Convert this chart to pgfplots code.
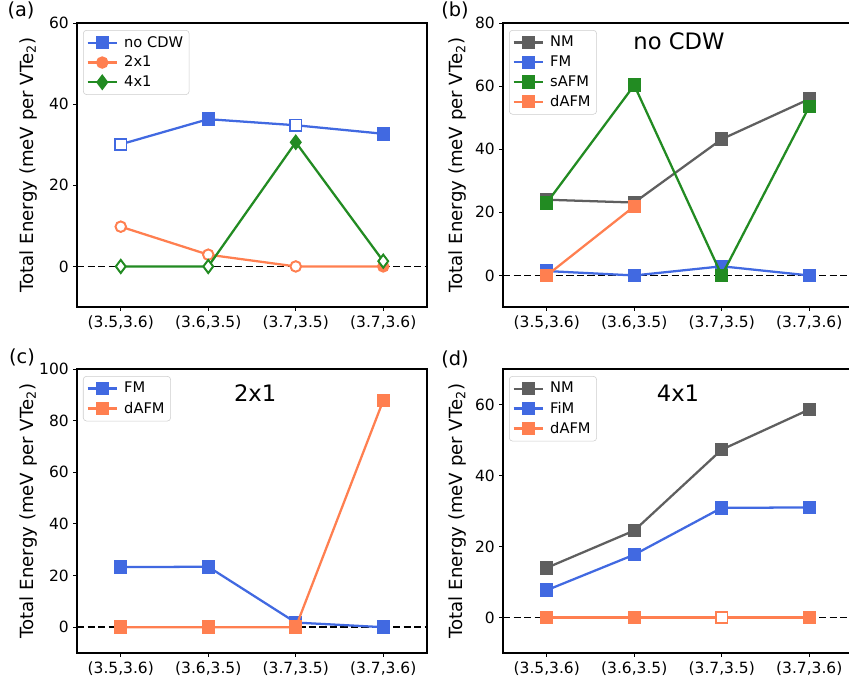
\documentclass[border=0pt]{standalone}
\usepackage{fontspec}
\setmainfont{DejaVu Sans}
\usepackage{pgfplots}
\pgfplotsset{compat=1.18}
\definecolor{cBlue}{RGB}{65,105,225}
\definecolor{cCoral}{RGB}{255,127,80}
\definecolor{cGreen}{RGB}{34,139,34}
\definecolor{cGray}{RGB}{95,95,95}

\newcommand{\legfont}{\fontsize{11}{13}\selectfont}
\tikzset{
  lab/.style={font=\fontsize{14.5}{17}\selectfont},
  ttl/.style={font=\fontsize{17}{20}\selectfont},
}
\pgfplotsset{
  panel/.style={
    scale only axis, width=262.5pt, height=213pt,
    clip mode=individual,
    xmin=-0.5, xmax=3.5, ymin=-10,
    xtick={0,1,2,3},
    xticklabels={{(3.5,3.6)},{(3.6,3.5)},{(3.7,3.5)},{(3.7,3.6)}},
    tick align=outside, major tick length=2.7pt,
    tick style={black, line width=0.7pt},
    xtick pos=bottom, ytick pos=left,
    axis line style={line width=0.9pt},
    ticklabel style={font=\fontsize{11.6}{14}\selectfont},
    /pgf/number format/assume math mode=true,
    ylabel={Total Energy (meV per VTe\textsubscript{2})},
    ylabel style={font=\fontsize{13.6}{16}\selectfont, anchor=center},
    legend cell align=left,
    legend style={at={(0,1)}, anchor=north west, xshift=4.5pt, yshift=-5.25pt,
      draw=black!20, fill=white, rounded corners=2.5pt,
      font=\legfont, inner sep=2.5pt, row sep=1.2pt},
    legend image code/.code={\draw[mark repeat=2,mark phase=2]
      plot coordinates {(0pt,0pt) (10.9pt,0pt) (21.8pt,0pt)};
      \path (0pt,0pt) (24.5pt,0pt);},
    every axis plot/.append style={line width=1.7pt},
  },
  zero/.style={black, line width=1.1pt, dash pattern=on 5.5pt off 2.4pt, forget plot},
  sq/.style={mark=square*, mark size=4.2pt, mark options={solid}},
  ci/.style={mark=*, mark size=3.8pt, mark options={solid}},
  di/.style={mark=diamond*, mark size=4.7pt, mark options={solid, xscale=1.33}},
}

\begin{document}
\begin{tikzpicture}
% (a)
\begin{axis}[panel, at={(57.75pt,-230.25pt)}, ymax=60, ytick={0,20,40,60},
  ylabel style={at={(axis description cs:-0.14,0.5)}}]
\addplot[zero] coordinates {(-0.5,0) (3.5,0)};
\addplot[cBlue, sq, mark options={fill=cBlue}] coordinates {(0,30.1) (1,36.3) (2,34.8) (3,32.7)};
\addlegendentry{no CDW}
\addplot[cBlue, sq, only marks, mark options={fill=white, draw=cBlue, line width=1.2pt}, forget plot] coordinates {(0,30.1) (2,34.8)};
\addplot[cCoral, ci, mark options={fill=cCoral}] coordinates {(0,9.8) (1,2.9) (2,0) (3,0)};
\addlegendentry{2x1}
\addplot[cCoral, ci, only marks, mark options={fill=white, draw=cCoral, line width=1.2pt}, forget plot] coordinates {(0,9.8) (1,2.9) (2,0)};
\addplot[cGreen, di, mark options={fill=cGreen}] coordinates {(0,0) (1,0) (2,30.6) (3,1.3)};
\addlegendentry{4x1}
\addplot[cGreen, di, only marks, mark options={fill=white, draw=cGreen, line width=1.2pt}, forget plot] coordinates {(0,0) (1,0) (3,1.3)};
\node[lab] at (axis description cs:-0.16,1.046) {(a)};
\end{axis}
% (b)
\begin{axis}[panel, at={(377.25pt,-230.25pt)}, ymax=80, ytick={0,20,40,60,80},
  ylabel style={at={(axis description cs:-0.13,0.5)}}]
\addplot[zero] coordinates {(-0.5,0) (3.5,0)};
\addplot[cGray, sq, mark options={fill=cGray}] coordinates {(0,24.0) (1,23.1) (2,43.2) (3,55.9)};
\addlegendentry{NM}
\addplot[cBlue, sq, mark options={fill=cBlue}] coordinates {(0,1.4) (1,0) (2,2.9) (3,0)};
\addlegendentry{FM}
\addplot[cGreen, sq, mark options={fill=cGreen}] coordinates {(0,23.0) (1,60.3) (2,0) (3,53.5)};
\addlegendentry{sAFM}
\addplot[cCoral, sq, mark options={fill=cCoral}] coordinates {(0,0) (1,21.9)};
\addlegendentry{dAFM}
\node[ttl] at (axis description cs:0.503,0.937) {no CDW};
\node[lab] at (axis description cs:-0.137,1.046) {(b)};
\end{axis}
% (c)
\begin{axis}[panel, at={(57.75pt,-489.75pt)}, ymax=100, ytick={0,20,40,60,80,100},
  ylabel style={at={(axis description cs:-0.14,0.5)}}]
\addplot[zero] coordinates {(-0.5,0) (3.5,0)};
\addplot[cBlue, sq, mark options={fill=cBlue}] coordinates {(0,23.3) (1,23.4) (2,1.8) (3,0)};
\addlegendentry{FM}
\addplot[cCoral, sq, mark options={fill=cCoral}] coordinates {(0,0) (1,0) (2,0) (3,87.8)};
\addlegendentry{dAFM}
\node[ttl] at (axis description cs:0.509,0.915) {2x1};
\node[lab] at (axis description cs:-0.157,1.042) {(c)};
\end{axis}
% (d)
\begin{axis}[panel, at={(377.25pt,-489.75pt)}, ymax=70, ytick={0,20,40,60},
  ylabel style={at={(axis description cs:-0.13,0.5)}}]
\addplot[zero] coordinates {(-0.5,0) (3.5,0)};
\addplot[cGray, sq, mark options={fill=cGray}] coordinates {(0,14.0) (1,24.5) (2,47.3) (3,58.6)};
\addlegendentry{NM}
\addplot[cBlue, sq, mark options={fill=cBlue}] coordinates {(0,7.7) (1,17.7) (2,30.9) (3,31.0)};
\addlegendentry{FiM}
\addplot[cCoral, sq, mark options={fill=cCoral}] coordinates {(0,0) (1,0) (2,0) (3,0)};
\addlegendentry{dAFM}
\addplot[cCoral, sq, only marks, mark options={fill=white, draw=cCoral, line width=1.2pt}, forget plot] coordinates {(2,0)};
\node[ttl] at (axis description cs:0.5,0.915) {4x1};
\node[lab] at (axis description cs:-0.137,1.035) {(d)};
\end{axis}
\pgfresetboundingbox
\path[use as bounding box] (0pt,0pt) rectangle (636.75pt,-512.25pt);
\end{tikzpicture}
\end{document}
